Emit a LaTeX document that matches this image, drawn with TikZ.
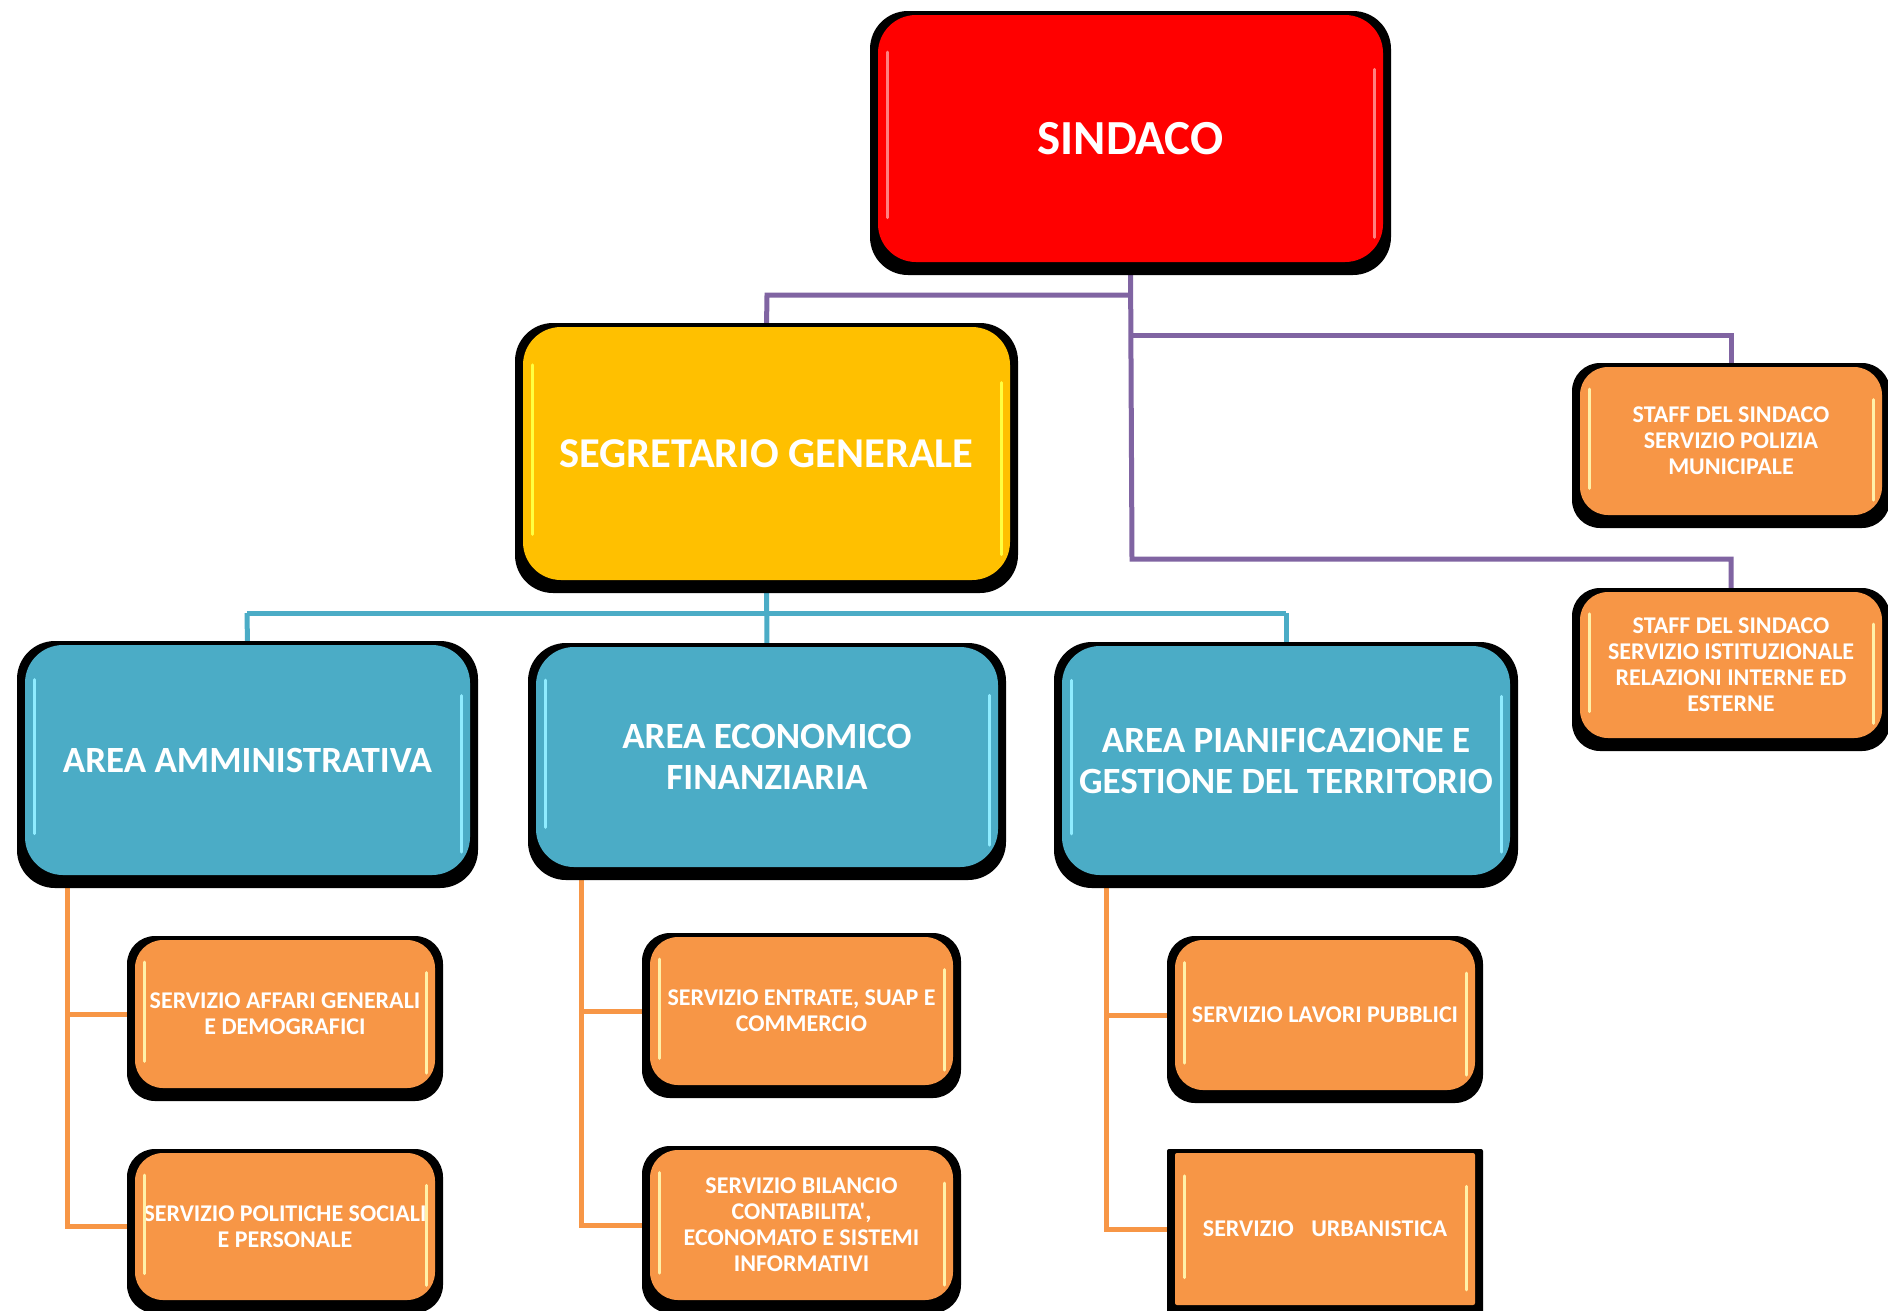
\documentclass[tikz,border=0pt]{standalone}
\usepackage{fontspec}
\setmainfont{Carlito}[Ligatures=TeXOff]
\pgfdeclarelayer{background}
\pgfdeclarelayer{paper}
\pgfsetlayers{paper,background,main}
\definecolor{cred}{HTML}{FF0000}
\definecolor{cyel}{HTML}{FFC000}
\definecolor{cteal}{HTML}{4BACC6}
\definecolor{corange}{HTML}{F79646}
\definecolor{cpurple}{HTML}{8064A2}
\definecolor{gred}{HTML}{FF8080}
\definecolor{gyel}{HTML}{FFFF40}
\definecolor{gteal}{HTML}{8FECFF}
\definecolor{gorange}{HTML}{FFF0A8}
\tikzset{
  boxnode/.style={inner sep=0pt, align=center, text=white, font=\bfseries},
  redbox/.style={boxnode, fill=cred, font=\bfseries\fontsize{49}{54}\selectfont},
  yelbox/.style={boxnode, fill=cyel, font=\bfseries\fontsize{42.5}{48}\selectfont},
  tealbox/.style={boxnode, fill=cteal, font=\bfseries\fontsize{37}{41}\selectfont},
  orbox/.style={boxnode, fill=corange, font=\bfseries\fontsize{24}{26}\selectfont},
  gloss/.style={line width=3pt, draw=#1, line cap=round},
  pline/.style={draw=cpurple, line width=5pt},
  tline/.style={draw=cteal, line width=5pt},
  oline/.style={draw=corange, line width=5pt},
}
\newcommand\mybox[9]{%
  \fill[black, rounded corners=#9] ({#2-8},{#3-4}) rectangle ({#4+8},{#5+13});
  \node[#6, rounded corners=#9, minimum width={#4-#2}, minimum height={#5-#3}] (#1) at ({(#2+#4)/2},{(#3+#5)/2}) {#8};
  \draw[gloss=#7] ({#2+9},{#3+0.15*(#5-#3)}) -- ({#2+9},{#5-0.18*(#5-#3)});
  \draw[gloss=#7] ({#4-9},{#3+0.22*(#5-#3)}) -- ({#4-9},{#5-0.1*(#5-#3)});
}
\begin{document}
\begin{tikzpicture}[x=1pt,y=-1pt]
\useasboundingbox (0,0) rectangle (1888,1310);
\begin{pgfonlayer}{paper}
\fill[white] (0,0) rectangle (1888,1310);
\end{pgfonlayer}
\mybox{sind}{878}{15}{1383}{262}{redbox}{gred}{SINDACO}{38pt}
\mybox{seg}{523}{327}{1010}{580}{yelbox}{gyel}{SEGRETARIO GENERALE}{38pt}
\mybox{amm}{25}{645}{470}{875}{tealbox}{gteal}{AREA AMMINISTRATIVA}{38pt}
\mybox{eco}{536}{647}{998}{867}{tealbox}{gteal}{AREA ECONOMICO\\FINANZIARIA}{38pt}
\mybox{pian}{1062}{646}{1510}{875}{tealbox}{gteal}{AREA PIANIFICAZIONE E\\GESTIONE DEL TERRITORIO}{38pt}
\mybox{aff}{135}{940}{435}{1088}{orbox}{gorange}{SERVIZIO AFFARI GENERALI\\E DEMOGRAFICI}{28pt}
\mybox{pol}{135}{1153}{435}{1300}{orbox}{gorange}{SERVIZIO POLITICHE SOCIALI\\E PERSONALE}{28pt}
\mybox{ent}{650}{937}{953}{1085}{orbox}{gorange}{SERVIZIO ENTRATE, SUAP E\\COMMERCIO}{28pt}
\mybox{bil}{650}{1150}{953}{1300}{orbox}{gorange}{SERVIZIO BILANCIO\\CONTABILITA',\\ECONOMATO E SISTEMI\\INFORMATIVI}{28pt}
\mybox{lav}{1175}{940}{1475}{1090}{orbox}{gorange}{SERVIZIO LAVORI PUBBLICI}{28pt}
\mybox{urb}{1175}{1153}{1475}{1305}{orbox}{gorange}{SERVIZIO\hspace{0.5em} URBANISTICA}{2pt}
\mybox{st1}{1580}{367}{1882}{515}{orbox}{gorange}{STAFF DEL SINDACO\\SERVIZIO POLIZIA\\MUNICIPALE}{28pt}
\mybox{st2}{1580}{592}{1882}{738}{orbox}{gorange}{STAFF DEL SINDACO\\SERVIZIO ISTITUZIONALE\\RELAZIONI INTERNE ED\\ESTERNE}{28pt}
\begin{pgfonlayer}{background}
  % purple
  \coordinate (pj) at (1132,295);
  \coordinate (pl) at (767,295);
  \coordinate (pb1) at (1132,335);
  \coordinate (pb2) at (1132,559);
  \draw[pline] (sind.south) -- (pb2) -| (st2.north);
  \draw[pline] (pj) -- (pl) -- (seg.north);
  \draw[pline] (pb1) -| (st1.north);
  % teal
  \coordinate (tl) at (247,613);
  \coordinate (tr) at (1286,613);
  \draw[tline] (seg.south) -- (eco.north);
  \draw[tline] (tl) -- (tr);
  \draw[tline] (tl) -- (amm.north);
  \draw[tline] (tr) -- (pian.north);
  % orange
  \coordinate (oa) at (67,875);
  \coordinate (oe) at (581,867);
  \coordinate (op) at (1106,875);
  \draw[oline] (oa) |- (aff.west);
  \draw[oline] (oa) |- (pol.west);
  \draw[oline] (oe) |- (ent.west);
  \draw[oline] (oe) |- (bil.west);
  \draw[oline] (op) |- (lav.west);
  \draw[oline] (op) |- (urb.west);
\end{pgfonlayer}
\end{tikzpicture}
\end{document}
